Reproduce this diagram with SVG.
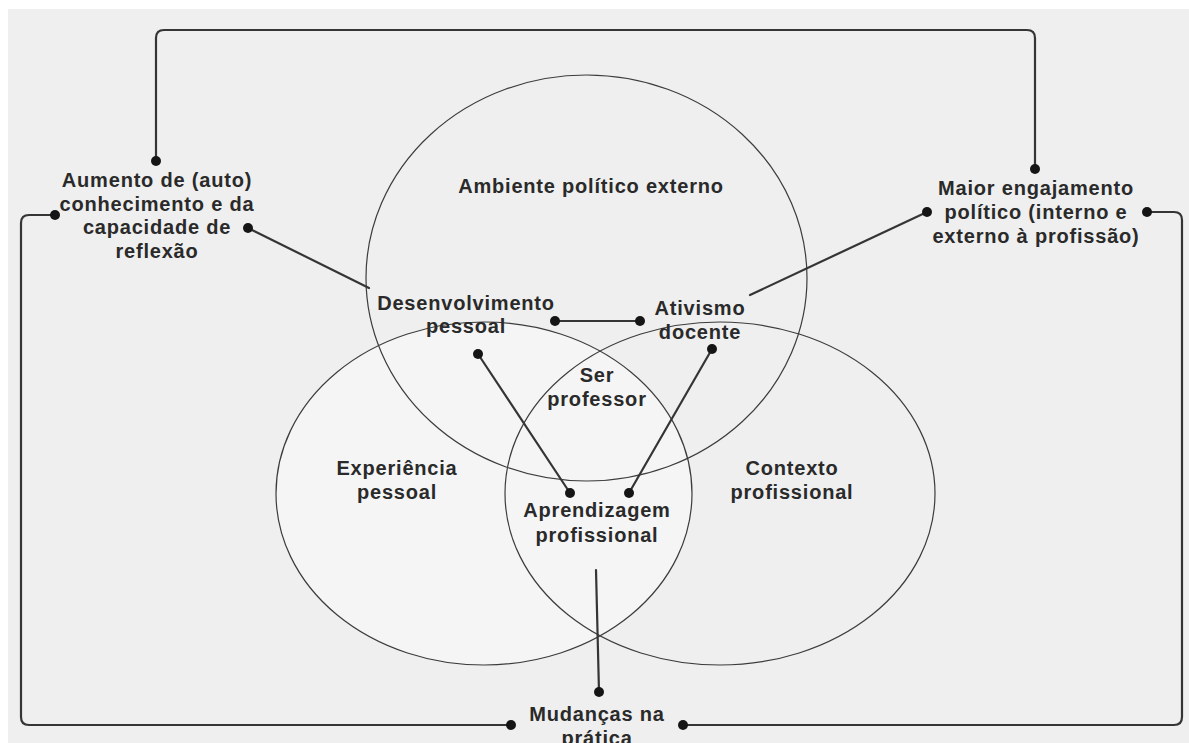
<svg xmlns="http://www.w3.org/2000/svg" width="1189" height="743" viewBox="0 0 1189 743">
<style>
.t{font-family:"Liberation Sans",Arial,sans-serif;font-weight:bold;font-size:20px;letter-spacing:0.8px;fill:#2a2a2a;text-anchor:middle}
.c{fill:none;stroke:#3c3c3c;stroke-width:1.2}
.ln{fill:none;stroke:#353535;stroke-width:2.2;stroke-linecap:round}
.d{fill:#151515}
</style>
<rect x="0" y="0" width="1189" height="743" fill="#ffffff"/>
<rect x="8" y="9" width="1181" height="734" fill="#efefef"/>
<g id="circle-fills">
<ellipse cx="484" cy="493.5" rx="208" ry="171.5" fill="#f5f5f5"/>
</g>
<g id="ambiente">
<ellipse class="c" cx="586.5" cy="278" rx="220.5" ry="203"/>
<text class="t" x="591" y="193">Ambiente político externo</text>
</g>
<g id="experiencia">
<ellipse class="c" cx="484" cy="493.5" rx="208" ry="171.5"/>
<text class="t" x="397" y="475">Experiência</text>
<text class="t" x="397" y="499">pessoal</text>
</g>
<g id="contexto">
<ellipse class="c" cx="720" cy="493.5" rx="215" ry="171.5"/>
<text class="t" x="792" y="475">Contexto</text>
<text class="t" x="792" y="499">profissional</text>
</g>
<g id="desenvolvimento">
<text class="t" x="466" y="310">Desenvolvimento</text>
<text class="t" x="466" y="333">pessoal</text>
</g>
<g id="ativismo">
<text class="t" x="700" y="315">Ativismo</text>
<text class="t" x="700" y="339">docente</text>
</g>
<g id="ser-professor">
<text class="t" x="597" y="382">Ser</text>
<text class="t" x="597" y="406">professor</text>
</g>
<g id="aprendizagem">
<text class="t" x="597" y="517">Aprendizagem</text>
<text class="t" x="597" y="542">profissional</text>
</g>
<g id="aumento">
<text class="t" x="157" y="187">Aumento de (auto)</text>
<text class="t" x="157" y="210.5">conhecimento e da</text>
<text class="t" x="157" y="234">capacidade de</text>
<text class="t" x="157" y="257.5">reflexão</text>
</g>
<g id="maior">
<text class="t" x="1036" y="195">Maior engajamento</text>
<text class="t" x="1036" y="219">político (interno e</text>
<text class="t" x="1036" y="243">externo à profissão)</text>
</g>
<g id="mudancas">
<text class="t" x="597" y="721">Mudanças na</text>
<text class="t" x="597" y="745">prática</text>
</g>
<g id="connectors">
<path class="ln" d="M156,161 V38 Q156,30 164,30 H1027 Q1035,30 1035,38 V169"/>
<path class="ln" d="M55,215 H29 Q21,215 21,223 V717 Q21,725 29,725 H511"/>
<path class="ln" d="M1147,212 H1174 Q1182,212 1182,220 V717 Q1182,725 1174,725 H683"/>
<path class="ln" d="M248,228 L369,288"/>
<path class="ln" d="M927,212 L750,295"/>
<path class="ln" d="M555,321 H640"/>
<path class="ln" d="M478,354 L570,493"/>
<path class="ln" d="M712,349 L629,493"/>
<path class="ln" d="M596,570 L599,692"/>
<circle class="d" cx="156" cy="161" r="5"/>
<circle class="d" cx="1035" cy="169" r="5"/>
<circle class="d" cx="55" cy="215" r="5"/>
<circle class="d" cx="1147" cy="212" r="5"/>
<circle class="d" cx="511" cy="725" r="5"/>
<circle class="d" cx="683" cy="725" r="5"/>
<circle class="d" cx="248" cy="228" r="5"/>
<circle class="d" cx="927" cy="212" r="5"/>
<circle class="d" cx="555" cy="321" r="5"/>
<circle class="d" cx="640" cy="321" r="5"/>
<circle class="d" cx="478" cy="354" r="5"/>
<circle class="d" cx="570" cy="493" r="5"/>
<circle class="d" cx="712" cy="349" r="5"/>
<circle class="d" cx="629" cy="493" r="5"/>
<circle class="d" cx="599" cy="692" r="5"/>
</g>
</svg>
